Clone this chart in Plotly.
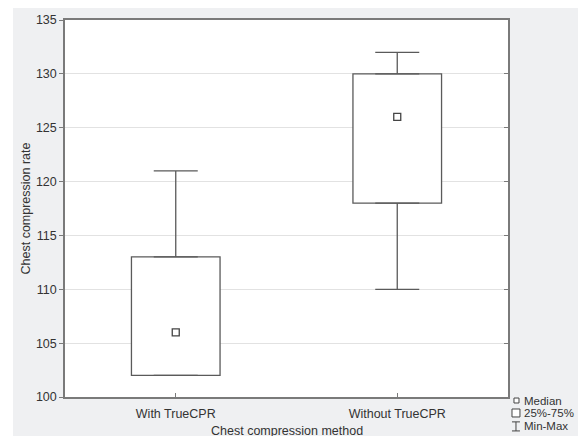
import plotly.graph_objects as go

categories = ["With TrueCPR", "Without TrueCPR"]
q1 = [102, 118]
median = [106, 126]
q3 = [113, 130]
vmin = [102, 110]
vmax = [121, 132]
y_ticks = [100, 105, 110, 115, 120, 125, 130, 135]

BOX_LINE = "#5a5a5a"
TEXT = "#333333"
BG = "#eff0f2"
FS = 12.5

fig = go.Figure()

# 25%-75% boxes
fig.add_trace(go.Bar(
    x=categories, base=q1, y=[b - a for a, b in zip(q1, q3)],
    width=0.4, marker=dict(color="white", line=dict(color=BOX_LINE, width=1.3)),
    showlegend=False, hoverinfo="skip",
))

# upper whiskers
fig.add_trace(go.Scatter(
    x=categories, y=q3, mode="markers",
    marker=dict(size=1, color="rgba(0,0,0,0)"),
    error_y=dict(type="data", symmetric=False,
                 array=[b - a for a, b in zip(q3, vmax)],
                 arrayminus=[0 for _ in q3],
                 color=BOX_LINE, thickness=1.3, width=22),
    showlegend=False, hoverinfo="skip",
))
# lower whiskers
fig.add_trace(go.Scatter(
    x=categories, y=q1, mode="markers",
    marker=dict(size=1, color="rgba(0,0,0,0)"),
    error_y=dict(type="data", symmetric=False,
                 array=[0 for _ in q1],
                 arrayminus=[a - b for a, b in zip(q1, vmin)],
                 color=BOX_LINE, thickness=1.3, width=22),
    showlegend=False, hoverinfo="skip",
))
# medians
fig.add_trace(go.Scatter(
    x=categories, y=median, mode="markers",
    marker=dict(symbol="square-open", size=7, color="#444444", line=dict(width=1.3)),
    showlegend=False, yaxis="y2",
))

# thin white strip at the left edge
shapes = [
    dict(type="rect", xref="paper", yref="paper", x0=-0.2, x1=-0.1174, y0=-0.2, y1=1.2,
         fillcolor="white", line=dict(width=0), layer="below"),
]
# legend symbols
shapes += [
    dict(type="rect", xref="paper", yref="paper", x0=1.0135, x1=1.0248, y0=-0.0027, y1=-0.0159,
         fillcolor="white", line=dict(color="#444444", width=1)),
    dict(type="rect", xref="paper", yref="paper", x0=1.009, x1=1.027, y0=-0.0318, y1=-0.053,
         fillcolor="white", line=dict(color="#444444", width=1)),
    dict(type="line", xref="paper", yref="paper", x0=1.018, x1=1.018, y0=-0.066, y1=-0.090,
         line=dict(color="#444444", width=1)),
    dict(type="line", xref="paper", yref="paper", x0=1.009, x1=1.027, y0=-0.066, y1=-0.066,
         line=dict(color="#444444", width=1)),
    dict(type="line", xref="paper", yref="paper", x0=1.009, x1=1.027, y0=-0.090, y1=-0.090,
         line=dict(color="#444444", width=1)),
]
legend_labels = ["Median", "25%-75%", "Min-Max"]
legend_x = [1.0316, 1.0316, 1.0316]
legend_y = [-0.0095, -0.0424, -0.078]
annotations = [
    dict(text=t, x=x, y=y, xref="paper", yref="paper", xanchor="left", yanchor="middle",
         showarrow=False, font=dict(size=11.5, color=TEXT))
    for t, x, y in zip(legend_labels, legend_x, legend_y)
]
# x-axis title
annotations.append(dict(
    text="Chest compression method", x=0.5, y=-0.0902, xref="paper", yref="paper",
    xanchor="center", yanchor="middle", showarrow=False, font=dict(size=FS, color=TEXT),
))

fig.update_layout(
    width=578, height=428,
    margin=dict(l=57, r=78, t=12, b=39, autoexpand=False),
    paper_bgcolor=BG, plot_bgcolor="white",
    font=dict(family="Liberation Sans, Arial, sans-serif", size=FS, color=TEXT),
    shapes=shapes, annotations=annotations,
    xaxis=dict(
        type="category", range=[-0.5, 1.5],
        showline=True, linecolor="#7a7a7a", linewidth=1.5, mirror=True,
        ticks="inside", ticklen=4, tickcolor="#7a7a7a",
        showgrid=False, zeroline=False,
        ticklabelstandoff=4,
    ),
    yaxis=dict(
        range=[100, 135], tickvals=y_ticks,
        showline=True, linecolor="#7a7a7a", linewidth=1.5, mirror=True,
        ticks="outside", ticklen=4, tickcolor="#7a7a7a",
        showgrid=True, gridcolor="#e2e2e2", gridwidth=1, zeroline=False,
        title=dict(text="Chest compression rate", font=dict(size=FS, color=TEXT), standoff=3),
    ),
    yaxis2=dict(
        overlaying="y", side="right", matches="y", range=[100, 135], tickvals=y_ticks,
        ticks="inside", ticklen=4, tickcolor="#7a7a7a",
        showticklabels=False, showgrid=False, zeroline=False, showline=False,
    ),
)

fig.write_html("out.html")
